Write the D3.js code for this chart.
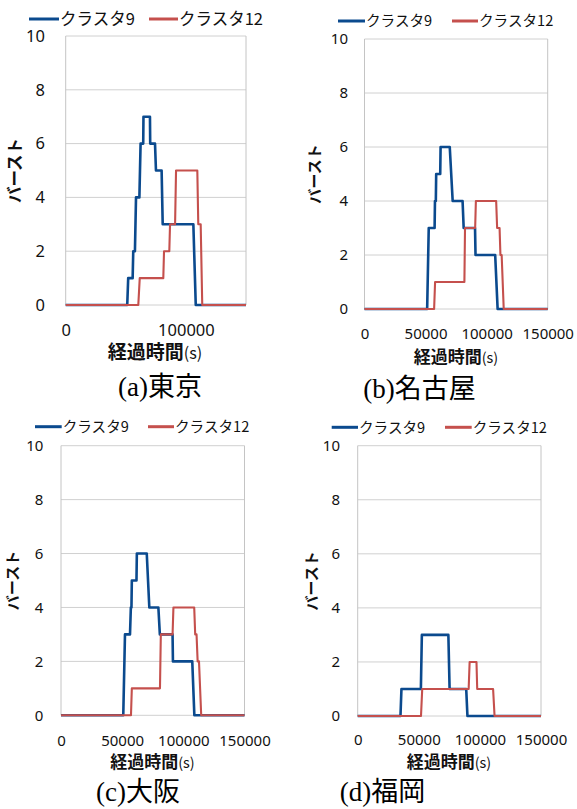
<!DOCTYPE html>
<html><head><meta charset="utf-8">
<script src="https://cdn.jsdelivr.net/npm/d3@7"></script>
<style>body{margin:0;background:#fff}</style>
</head><body><svg id="c" width="577" height="809"></svg>
<script>
// ---- data ----
const seriesNames = ["クラスタ9", "クラスタ12"];
const yTickValues = [0, 2, 4, 6, 8, 10];
const xTickValuesTokyo = [0, 100000];
const xTickValues = [0, 50000, 100000, 150000];
const captions = ["(a)東京", "(b)名古屋", "(c)大阪", "(d)福岡"];
const xTitleMain = "経過時間";
const xTitleUnit = "(s)";
const yTitleText = "バースト";

// (a) Tokyo
const tokyoTime9  = [0, 51200, 52000, 55700, 56200, 57600, 58500, 61300, 62300, 64500, 64700, 70100, 70300, 74300, 75100, 79800, 80700, 106200, 108200, 150000];
const tokyoBurst9 = [0, 0, 1, 1, 2, 2, 4, 4, 6, 6, 7, 7, 6, 6, 5, 5, 3, 3, 0, 0];
const tokyoTime12  = [0, 60400, 61600, 81200, 81800, 86200, 86800, 91000, 91800, 109500, 110300, 112300, 113600, 150000];
const tokyoBurst12 = [0, 0, 1, 1, 2, 2, 3, 3, 5, 5, 3, 3, 0, 0];
// (b) Nagoya
const nagoyaTime9  = [0, 51300, 52600, 57400, 57700, 58400, 58700, 62000, 62300, 69800, 72200, 80300, 81200, 90500, 90900, 107000, 109000, 150000];
const nagoyaBurst9 = [0, 0, 3, 3, 4, 4, 5, 5, 6, 6, 4, 4, 3, 3, 2, 2, 0, 0];
const nagoyaTime12  = [0, 57000, 57800, 81800, 82300, 90600, 91200, 107800, 108600, 110600, 111300, 112300, 114000, 150000];
const nagoyaBurst12 = [0, 0, 1, 1, 3, 3, 4, 4, 3, 3, 2, 2, 0, 0];
// (c) Osaka
const osakaTime9  = [0, 50900, 52300, 56400, 57100, 57600, 57900, 61700, 62000, 70100, 72200, 79600, 80800, 91200, 91500, 107300, 109000, 150000];
const osakaBurst9 = [0, 0, 3, 3, 4, 4, 5, 5, 6, 6, 4, 4, 3, 3, 2, 2, 0, 0];
const osakaTime12  = [0, 57200, 57900, 80900, 81600, 91200, 91900, 108900, 109700, 110800, 111700, 112800, 114600, 150000];
const osakaBurst12 = [0, 0, 1, 1, 3, 3, 4, 4, 3, 3, 2, 2, 0, 0];
// (d) Fukuoka
const fukuokaTime9  = [0, 35000, 35800, 51700, 52500, 74200, 75200, 88800, 89800, 150000];
const fukuokaBurst9 = [0, 0, 1, 1, 3, 3, 1, 1, 0, 0];
const fukuokaTime12  = [0, 51800, 52800, 90800, 91600, 97200, 97800, 110800, 112000, 150000];
const fukuokaBurst12 = [0, 0, 1, 1, 2, 2, 1, 1, 0, 0];

const xDomain = [0, 150000];
const yDomain = [0, 10];

// ---- layout ----
const colors = ["#0b4a8e", "#c5504d"];
const widths = [2.6, 2.1];
const panels = [
  {t9: tokyoTime9, v9: tokyoBurst9, t12: tokyoTime12, v12: tokyoBurst12, xticks: xTickValuesTokyo,
   x0: 65.7, x1: 246, yt: 36, yb: 305, tickFs: 16.5, yLabR: 45, xLabY: 330,
   titleFs: 19, xTitle: [155, 352.5], yTitleX: 15, yTitleFs: 16.5,
   legY: 19, legFs: 16.5, leg: [[29, 59], [149, 178]], cap: [160, 386.7]},
  {t9: nagoyaTime9, v9: nagoyaBurst9, t12: nagoyaTime12, v12: nagoyaBurst12, xticks: xTickValues,
   x0: 364.5, x1: 547.7, yt: 39, yb: 309, tickFs: 15, yLabR: 348, xLabY: 334,
   titleFs: 17, xTitle: [456, 357], yTitleX: 315, yTitleFs: 15,
   legY: 21, legFs: 14.6, leg: [[338, 365], [452, 478]], cap: [419.6, 388]},
  {t9: osakaTime9, v9: osakaBurst9, t12: osakaTime12, v12: osakaBurst12, xticks: xTickValues,
   x0: 61, x1: 244.5, yt: 445.7, yb: 715.3, tickFs: 15, yLabR: 43.3, xLabY: 740.5,
   titleFs: 17, xTitle: [152.5, 762], yTitleX: 13, yTitleFs: 15,
   legY: 426.7, legFs: 14.6, leg: [[35, 61.7], [148, 174]], cap: [138, 791.7]},
  {t9: fukuokaTime9, v9: fukuokaBurst9, t12: fukuokaTime12, v12: fukuokaBurst12, xticks: xTickValues,
   x0: 357.7, x1: 541, yt: 445.7, yb: 716, tickFs: 15, yLabR: 340, xLabY: 740,
   titleFs: 17, xTitle: [449, 762], yTitleX: 312, yTitleFs: 15,
   legY: 427.3, legFs: 14.6, leg: [[331.7, 358], [445, 471.7]], cap: [382.6, 791.7]}
];

const svg = d3.select("#c");
const numFont = "'Noto Sans', 'Open Sans', sans-serif";
const jpFont = "'Noto Sans CJK JP', 'Noto Sans', sans-serif";
const capFont = "'Liberation Serif', 'DejaVu Serif', 'Noto Sans CJK JP', serif";

panels.forEach((p, pi) => {
  const g = svg.append("g");
  const x = d3.scaleLinear().domain(xDomain).range([p.x0, p.x1]);
  const y = d3.scaleLinear().domain(yDomain).range([p.yb, p.yt]);

  // gridlines
  g.append("g").selectAll("line").data(yTickValues).join("line")
    .attr("x1", p.x0).attr("x2", p.x1)
    .attr("y1", d => y(d)).attr("y2", d => y(d))
    .attr("stroke", "#d0d0d0").attr("stroke-width", 1);
  // left/right borders
  [p.x0, p.x1].forEach(xx => g.append("line")
    .attr("x1", xx).attr("x2", xx).attr("y1", p.yt).attr("y2", p.yb)
    .attr("stroke", "#c4c4c4").attr("stroke-width", 1));

  // y axis
  const ya = g.append("g").attr("transform", `translate(${p.x0},0)`)
    .call(d3.axisLeft(y).tickValues(yTickValues).tickSize(0).tickPadding(p.x0 - p.yLabR).tickFormat(d3.format("d")));
  ya.select(".domain").remove();
  ya.selectAll("text").attr("font-family", numFont).attr("font-size", p.tickFs).attr("fill", "#111");

  // x axis
  const xa = g.append("g").attr("transform", `translate(0,${p.yb})`)
    .call(d3.axisBottom(x).tickValues(p.xticks).tickSize(0).tickFormat(d3.format("d")));
  xa.select(".domain").remove();
  xa.selectAll("text").attr("y", p.xLabY - p.yb).attr("dy", "0.36em")
    .attr("font-family", numFont).attr("font-size", p.tickFs).attr("fill", "#111");

  // titles
  const xt = g.append("text").attr("x", p.xTitle[0]).attr("y", p.xTitle[1]).attr("dy", "0.36em")
    .attr("text-anchor", "middle").attr("font-family", jpFont)
    .attr("font-size", p.titleFs).attr("fill", "#111");
  xt.append("tspan").attr("font-weight", "bold").text(xTitleMain);
  xt.append("tspan").attr("font-weight", "normal").attr("font-size", p.titleFs * 0.85).text(xTitleUnit);
  const cy = (p.yt + p.yb) / 2;
  g.append("text").attr("transform", `translate(${p.yTitleX},${cy}) rotate(-90)`).attr("dy", "0.36em")
    .attr("text-anchor", "middle").attr("font-family", jpFont).attr("font-weight", "bold")
    .attr("font-size", p.yTitleFs).attr("fill", "#111").text(yTitleText);

  // lines
  const line = d3.line().x(d => x(d[0])).y(d => y(d[1]));
  const series = [d3.zip(p.t9, p.v9), d3.zip(p.t12, p.v12)];
  series.forEach((s, si) => {
    g.append("path").datum(s).attr("d", line).attr("fill", "none")
      .attr("stroke", colors[si]).attr("stroke-width", widths[si])
      .attr("stroke-linejoin", "round").attr("stroke-linecap", "butt");
  });

  // legend
  seriesNames.forEach((name, si) => {
    const [lx0, lx1] = p.leg[si];
    g.append("line").attr("x1", lx0).attr("x2", lx1).attr("y1", p.legY).attr("y2", p.legY)
      .attr("stroke", colors[si]).attr("stroke-width", 3);
    g.append("text").attr("x", lx1 + 1).attr("y", p.legY).attr("dy", "0.36em")
      .attr("font-family", jpFont).attr("font-size", p.legFs).attr("fill", "#111").text(name);
  });

  // caption
  g.append("text").attr("x", p.cap[0]).attr("y", p.cap[1]).attr("dy", "0.36em")
    .attr("text-anchor", "middle").attr("font-family", capFont).attr("font-size", 27)
    .attr("fill", "#000").text(captions[pi]);
});
</script></body></html>
